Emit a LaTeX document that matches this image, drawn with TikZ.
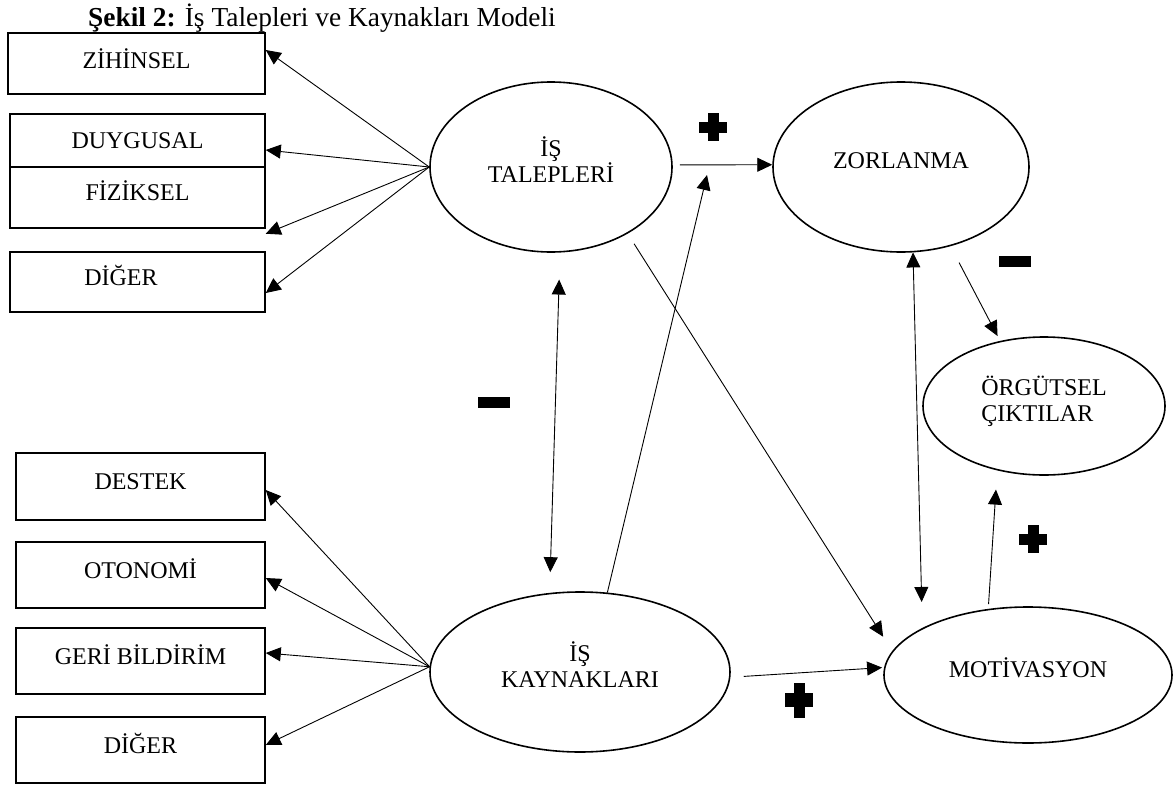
\documentclass[tikz,border=0pt]{standalone}
\usepackage{fontspec}
\setmainfont{Liberation Serif}
\usetikzlibrary{arrows.meta,shapes.geometric}

\begin{document}
\begin{tikzpicture}[x=1pt,y=-1pt,font=\fontsize{24}{26}\selectfont,
  kutu/.style={draw,line width=1.5pt,rectangle,minimum width=255pt,text height=16pt,text depth=10pt,inner sep=0pt},
  elips/.style={draw,line width=1.6pt,ellipse,inner sep=0pt,align=center,text depth=15pt},
  ok/.style={-{Triangle[length=15pt,width=14pt]},line width=0.9pt},
  ciftok/.style={{Triangle[length=15pt,width=14pt]}-{Triangle[length=15pt,width=14pt]},line width=0.9pt},
  arti/.pic={\fill (-14,-5.5) rectangle (14,5.5); \fill (-5.5,-14) rectangle (5.5,14);},
  eksi/.pic={\fill (-16,-5.5) rectangle (16,5.5);}]
  \useasboundingbox (0,0) rectangle (1173,787);

  \node[anchor=base west,inner sep=0pt,font=\fontsize{27.4}{30}\selectfont] (baslik) at (88,26) {\textbf{Şekil 2:} İş Talepleri ve Kaynakları Modeli};

  % talepler
  \node[kutu,minimum width=257pt,minimum height=61pt,text depth=7pt] (zih) at (136.5,63.5) {ZİHİNSEL};
  \node[kutu,minimum height=53pt,text depth=1pt] (duy) at (137.5,140.5) {DUYGUSAL};
  \node[kutu,minimum height=61pt] (fiz) at (137.5,197.5) {FİZİKSEL};
  \node[kutu,minimum height=60pt] (dig1) at (137.5,282) {DİĞER\hspace*{33pt}};

  % kaynaklar
  \node[kutu,minimum width=249pt,minimum height=67pt] (des) at (140.5,486.5) {DESTEK};
  \node[kutu,minimum width=249pt,minimum height=66pt] (oto) at (140.5,575) {OTONOMİ};
  \node[kutu,minimum width=249pt,minimum height=66pt] (ger) at (140.5,661) {GERİ BİLDİRİM};
  \node[kutu,minimum width=249pt,minimum height=66pt] (dig2) at (140.5,750) {DİĞER};

  \node[elips,minimum width=242pt,minimum height=170pt] (tal) at (551,167) {İŞ\\TALEPLERİ};
  \node[elips,minimum width=256pt,minimum height=170pt,text depth=12pt] (zor) at (901,167) {ZORLANMA};
  \node[elips,minimum width=242pt,minimum height=138pt,align=left] (org) at (1044,406) {ÖRGÜTSEL\\ÇIKTILAR};
  \node[elips,minimum width=300pt,minimum height=160pt] (kay) at (580,672) {İŞ\\KAYNAKLARI};
  \node[elips,minimum width=288pt,minimum height=136pt] (mot) at (1028,675) {MOTİVASYON};
  \coordinate (tz) at (707,175);

  \draw[ok] (tal.west) -- ([yshift=13.5pt]zih.east);
  \draw[ok] (tal.west) -- ([yshift=-9.5pt]duy.east);
  \draw[ok] (tal.west) -- ([yshift=-5pt]fiz.south east);
  \draw[ok] (tal.west) -- ([yshift=-11pt]dig1.east);

  \draw[ok] (kay.178.5) -- ([yshift=-3.5pt]des.east);
  \draw[ok] (kay.178.5) -- ([yshift=-3pt]oto.east);
  \draw[ok] (kay.178.5) -- ([yshift=8pt]ger.east);
  \draw[ok] (kay.178.5) -- ([yshift=5pt]dig2.east);

  \draw[ok,shorten <=7pt] (tal.1) -- (zor.179);
  \draw[ok] (kay.71) -- (tz);
  \draw[ok,shorten <=12pt,shorten >=17pt] (tal.-41.9) -- (mot.170.4);
  \draw[ciftok,shorten <=27pt,shorten >=20.7pt] (tal.-84.1) -- (kay.111.3);
  \draw[ciftok,shorten >=26pt] (zor.-82) -- (mot.156.7);
  \draw[ok,shorten <=18.5pt,shorten >=5.5pt] (zor.-58.3) -- (org.124.8);
  \draw[ok,shorten <=4.7pt,shorten >=19.2pt] (mot.121.7) -- (org.234.5);
  \draw[ok,shorten <=13.3pt,shorten >=2pt] (kay.-2.6) -- (mot.177.2);

  \pic at (713,127) {arti};
  \pic at (1033,539) {arti};
  \pic[yscale=1.25] at (799,700) {arti};
  \pic at (494,402) {eksi};
  \pic at (1015,261) {eksi};
\end{tikzpicture}
\end{document}
